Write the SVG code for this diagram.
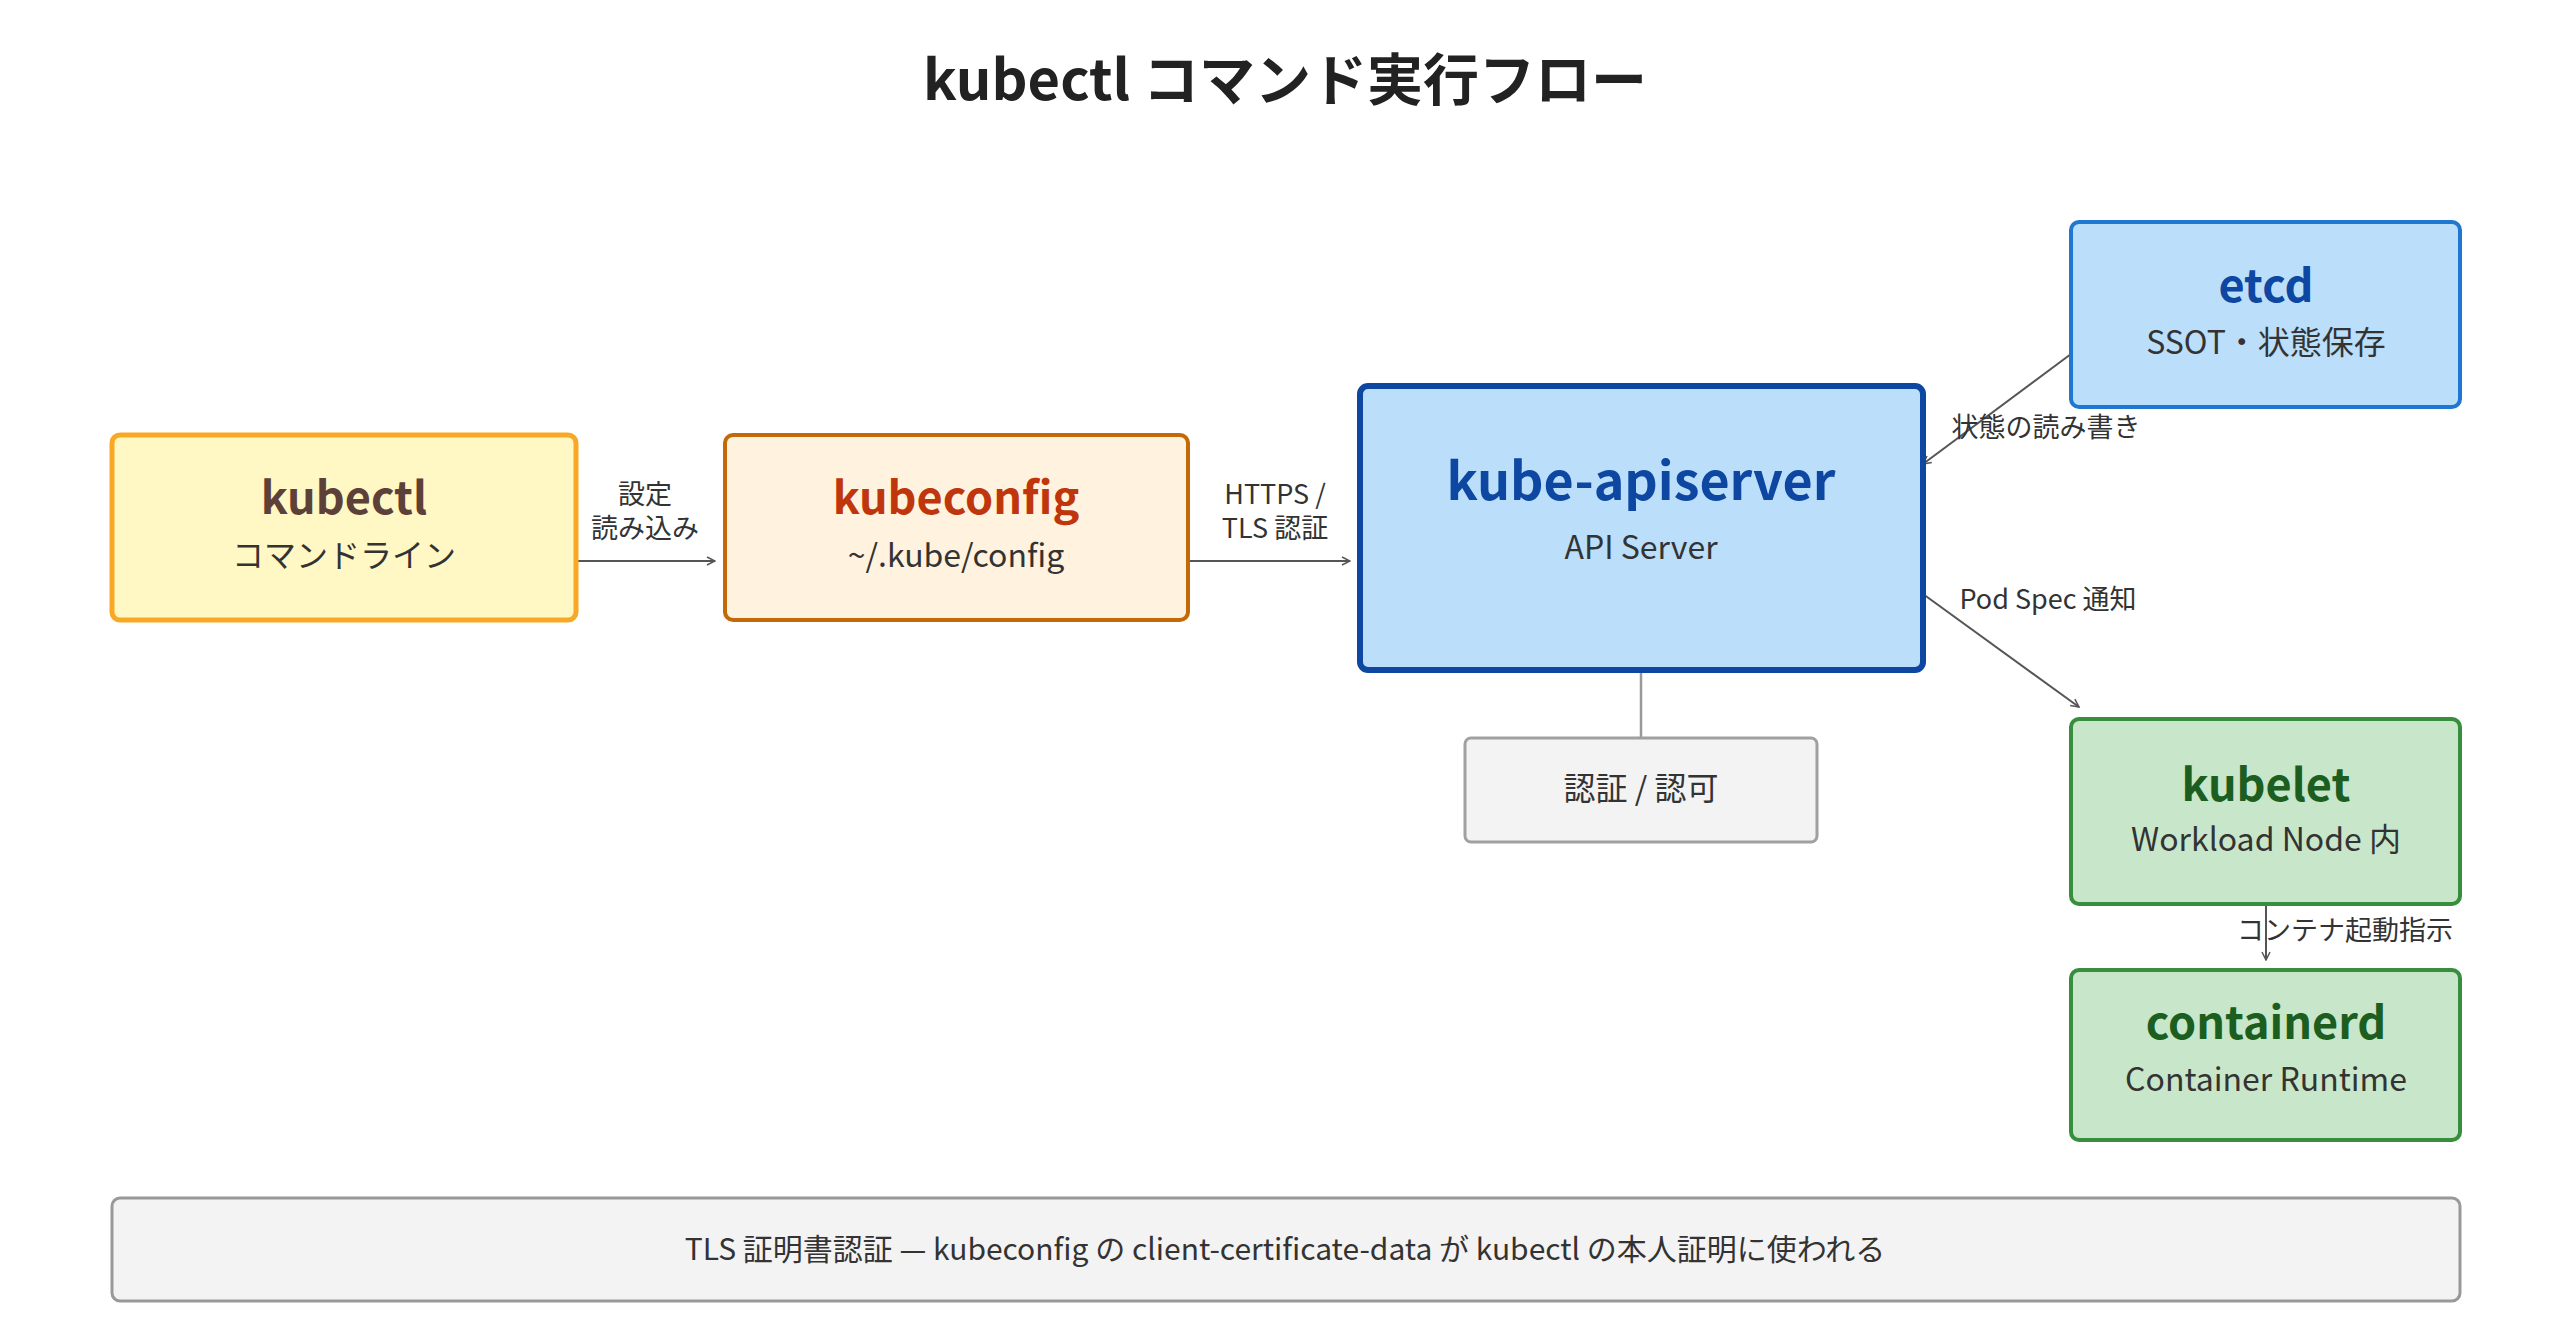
<svg xmlns="http://www.w3.org/2000/svg" width="2560" height="1340" viewBox="0 0 2560 1340">
<style>
text{font-family:"Noto Sans CJK JP","Noto Sans",sans-serif;text-anchor:middle;fill:#333}
.t{font-weight:bold;font-size:45px}
.s{font-size:32px}
.l{font-size:27px}
.e{stroke:#555;stroke-width:2;fill:none;marker-end:url(#a)}
</style>
<defs><marker id="a" viewBox="0 0 10 10" refX="9" refY="5" markerWidth="10" markerHeight="10" markerUnits="userSpaceOnUse" orient="auto"><path d="M1,1 L9,5 L1,9" fill="none" stroke="#555" stroke-width="1.5"/></marker></defs>
<rect width="2560" height="1340" fill="#fff"/>
<text x="1285" y="100" style="font-size:56px;font-weight:bold;fill:#222">kubectl コマンド実行フロー</text>
<g id="edges">
<line class="e" x1="576" y1="561" x2="715" y2="561"/>
<line class="e" x1="1188" y1="561" x2="1350" y2="561"/>
<line class="e" x1="2071" y1="354" x2="1923" y2="464"/>
<line class="e" x1="1923" y1="594" x2="2079" y2="707"/>
<line x1="1641" y1="670" x2="1641" y2="738" stroke="#999" stroke-width="2.5"/>
<line class="e" x1="2266" y1="904" x2="2266" y2="960"/>
<text class="l" x="645" y="504">設定</text>
<text class="l" x="645" y="538">読み込み</text>
<text class="l" x="1275" y="504">HTTPS /</text>
<text class="l" x="1275" y="538">TLS 認証</text>
<text class="l" x="2046" y="437">状態の読み書き</text>
<text class="l" x="2048" y="609">Pod Spec 通知</text>
<text class="l" x="2345" y="940">コンテナ起動指示</text>
</g>
<g id="kubectl"><rect x="112" y="435" width="464" height="185" rx="8" fill="#FFF8C4" stroke="#F9A825" stroke-width="5"/>
<text class="t" x="344" y="514" style="fill:#5D4037">kubectl</text><text class="s" x="344" y="567">コマンドライン</text></g>
<g id="kubeconfig"><rect x="725" y="435" width="463" height="185" rx="8" fill="#FFF2DE" stroke="#C26A0A" stroke-width="4"/>
<text class="t" x="956" y="514" style="fill:#BF360C">kubeconfig</text><text class="s" x="956" y="567">~/.kube/config</text></g>
<g id="apiserver"><rect x="1360" y="386" width="563" height="284" rx="8" fill="#BBDEFB" stroke="#0D47A1" stroke-width="6"/>
<text class="t" x="1641" y="500" style="font-size:52px;fill:#0D47A1">kube-apiserver</text><text class="s" x="1641" y="559">API Server</text></g>
<g id="auth"><rect x="1465" y="738" width="352" height="104" rx="6" fill="#F3F3F3" stroke="#A0A0A0" stroke-width="3"/>
<text class="s" x="1641" y="800">認証 / 認可</text></g>
<g id="etcd"><rect x="2071" y="222" width="389" height="185" rx="8" fill="#BBDEFB" stroke="#1E78D2" stroke-width="4"/>
<text class="t" x="2266" y="302" style="fill:#0D47A1">etcd</text><text class="s" x="2266" y="354">SSOT・状態保存</text></g>
<g id="kubelet"><rect x="2071" y="719" width="389" height="185" rx="8" fill="#C8E6C9" stroke="#388E3C" stroke-width="4"/>
<text class="t" x="2266" y="801" style="fill:#1B5E20">kubelet</text><text class="s" x="2266" y="851">Workload Node 内</text></g>
<g id="containerd"><rect x="2071" y="970" width="389" height="170" rx="8" fill="#C8E6C9" stroke="#388E3C" stroke-width="4"/>
<text class="t" x="2266" y="1039" style="fill:#1B5E20">containerd</text><text class="s" x="2266" y="1091">Container Runtime</text></g>
<g id="footer"><rect x="112" y="1198" width="2348" height="103" rx="8" fill="#F3F3F3" stroke="#999" stroke-width="3"/>
<text class="s" x="1285" y="1260" style="font-size:30px">TLS 証明書認証 — kubeconfig の client-certificate-data が kubectl の本人証明に使われる</text></g>
</svg>
